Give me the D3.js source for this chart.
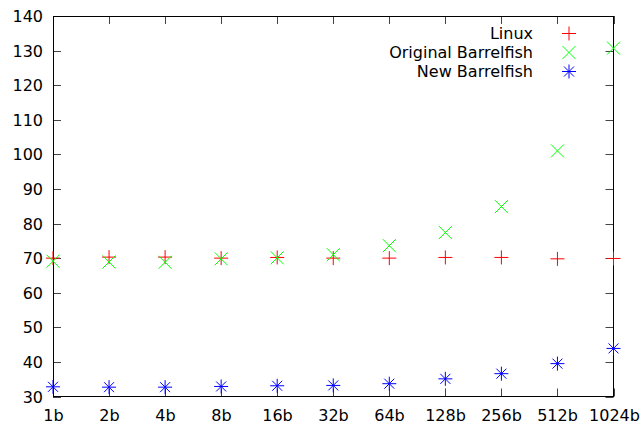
<!DOCTYPE html>
<html><head><meta charset="utf-8">
<script src="https://cdn.jsdelivr.net/npm/d3@7"></script>
<style>body{margin:0;background:#fff}svg{display:block}text{font-family:"DejaVu Sans",sans-serif;font-size:16px;fill:#000}</style>
</head><body>
<script>
const categories = ["1b","2b","4b","8b","16b","32b","64b","128b","256b","512b","1024b"];
const linux = [70.0,70.3,70.3,70.0,70.2,70.0,70.0,70.2,70.2,69.8,69.9];
const origBarrelfish = [69.1,68.9,68.8,69.8,70.1,71.0,73.6,77.4,84.9,101.0,130.7];
const newBarrelfish = [32.8,32.7,32.7,32.9,33.1,33.2,33.7,35.1,36.6,39.5,43.9];
const yTicks = [30,40,50,60,70,80,90,100,110,120,130,140];
const seriesNames = ["Linux","Original Barrelfish","New Barrelfish"];

const W=641,H=425;
const m={l:53,r:613.5,t:16,b:396.5};
const svg=d3.select("body").append("svg").attr("width",W).attr("height",H);
const x=d3.scalePoint().domain(categories).range([m.l,m.r]);
const y=d3.scaleLinear().domain([30,140]).range([m.b,m.t]);

const tl=8;
const g=svg.append("g");
yTicks.forEach(v=>{
  const yy=Math.round(y(v))+0.5;
  g.append("line").attr("x1",m.l).attr("x2",m.l+tl).attr("y1",yy).attr("y2",yy).attr("stroke","#444");
  g.append("line").attr("x1",m.r-tl).attr("x2",m.r).attr("y1",yy).attr("y2",yy).attr("stroke","#444");
  g.append("text").attr("x",43).attr("y",yy+5.5).attr("text-anchor","end").text(v);
});
categories.forEach(c=>{
  const xx=Math.round(x(c))+0.5;
  g.append("line").attr("x1",xx).attr("x2",xx).attr("y1",m.b).attr("y2",m.b-tl).attr("stroke","#444");
  g.append("line").attr("x1",xx).attr("x2",xx).attr("y1",m.t).attr("y2",m.t+tl).attr("stroke","#444");
  g.append("text").attr("x",xx).attr("y",421).attr("text-anchor","middle").text(c);
});
svg.append("rect").attr("x",m.l+0.5).attr("y",m.t+0.5).attr("width",m.r-m.l-0.5).attr("height",m.b-m.t-0.5)
  .attr("fill","none").attr("stroke","#000");

const s=7;
function plus(cx,cy){return `M${cx-s},${cy}H${cx+s}M${cx},${cy-s}V${cy+s}`;}
function cross(cx,cy){const k=6.5;return `M${cx-k},${cy-k}L${cx+k},${cy+k}M${cx-k},${cy+k}L${cx+k},${cy-k}`;}
function starP(cx,cy){const k=5;return plus(cx,cy)+`M${cx-k},${cy-k}L${cx+k},${cy+k}M${cx-k},${cy+k}L${cx+k},${cy-k}`;}
const series=[
  {name:seriesNames[0],data:linux,color:"#ff0000",sym:plus},
  {name:seriesNames[1],data:origBarrelfish,color:"#00ff00",sym:cross},
  {name:seriesNames[2],data:newBarrelfish,color:"#0000ff",sym:starP}
];
series.forEach((se,i)=>{
  svg.append("path").attr("d",se.data.map((v,j)=>se.sym(x(categories[j]),y(v))).join(""))
    .attr("stroke",se.color).attr("stroke-width",1).attr("fill","none");
  const ly=33.5+i*19;
  svg.append("text").attr("x",533).attr("y",ly+5).attr("text-anchor","end").text(se.name);
  svg.append("path").attr("d",se.sym(569,ly)).attr("stroke",se.color).attr("stroke-width",1).attr("fill","none");
});
</script>
</body></html>
